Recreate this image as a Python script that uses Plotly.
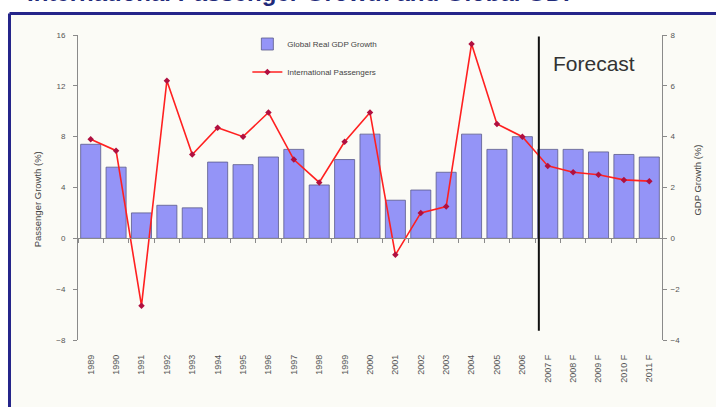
import plotly.graph_objects as go

# Years (forecast years flagged with "F")
years = ["1989", "1990", "1991", "1992", "1993", "1994", "1995", "1996", "1997",
         "1998", "1999", "2000", "2001", "2002", "2003", "2004", "2005", "2006",
         "2007 F", "2008 F", "2009 F", "2010 F", "2011 F"]

# Global real GDP growth (%) - right axis
gdp_growth = [3.7, 2.8, 1.0, 1.3, 1.2, 3.0, 2.9, 3.2, 3.5, 2.1, 3.1, 4.1,
              1.5, 1.9, 2.6, 4.1, 3.5, 4.0, 3.5, 3.5, 3.4, 3.3, 3.2]

# International passenger growth (%) - left axis
passenger_growth = [7.8, 6.9, -5.3, 12.4, 6.6, 8.7, 8.0, 9.9, 6.2, 4.4, 7.6, 9.9,
                    -1.3, 2.0, 2.5, 15.3, 9.0, 8.0, 5.7, 5.2, 5.0, 4.6, 4.5]

left_ticks = [-8, -4, 0, 4, 8, 12, 16]
right_ticks = [-4, -2, 0, 2, 4, 6, 8]

BG = "#fbfbf6"
NAVY = "#25258a"
AXIS = "#8a8a8a"
TICKFONT = dict(family="Arial", size=8, color="#555555")
XTICKFONT = dict(family="Arial", size=9, color="#555555")
TITLEFONT = dict(family="Arial", size=9.5, color="#444444")

fig = go.Figure()

# GDP bars on the base (right-hand) axis so the passenger line sits on top
fig.add_trace(go.Bar(
    x=years, y=gdp_growth, name="Global Real GDP Growth",
    yaxis="y", marker=dict(color="#9494f7", line=dict(color="#5a5a8a", width=0.8)),
    legendgroup="gdp",
))

fig.add_trace(go.Scatter(
    x=years, y=passenger_growth, name="International Passengers",
    yaxis="y2", mode="lines+markers", line=dict(color="#ff2020", width=1.6),
    marker=dict(symbol="diamond", size=5, color="#b01040"),
    legendgroup="pax",
))

n = len(years)

fig.update_layout(
    width=716, height=407,
    margin=dict(l=78, r=54, t=35, b=67),
    paper_bgcolor=BG, plot_bgcolor=BG,
    bargap=0.21,
    showlegend=True,
    legend=dict(
        x=0.29, y=1.018, xanchor="left", yanchor="top",
        bgcolor="rgba(0,0,0,0)", font=dict(family="Arial", size=8, color="#444444"),
        traceorder="grouped", tracegroupgap=9, itemwidth=30,
    ),
    xaxis=dict(
        type="category", range=[-0.5, n - 0.5],
        showline=False, showgrid=False, zeroline=False, ticks="",
        tickangle=-90, tickfont=XTICKFONT, ticklabelstandoff=12,
    ),
    xaxis2=dict(
        overlaying="x", anchor="free", position=1 / 3,
        range=[-0.5, n - 0.5], showgrid=False, zeroline=False,
        showline=True, linecolor=AXIS, linewidth=1,
        tickvals=[i + 0.5 for i in range(-1, n)], showticklabels=False,
        ticks="outside", ticklen=4, tickcolor=AXIS,
    ),
    yaxis=dict(
        range=[-4, 8], tickvals=right_ticks, side="right",
        showgrid=False, zeroline=False,
        showline=True, linecolor=AXIS, linewidth=1,
        ticks="outside", ticklen=4, tickcolor=AXIS, tickfont=TICKFONT,
        ticklabelstandoff=2,
    ),
    yaxis2=dict(
        range=[-8, 16], tickvals=left_ticks, overlaying="y", side="left",
        showgrid=False, zeroline=False,
        showline=True, linecolor=AXIS, linewidth=1,
        ticks="outside", ticklen=4, tickcolor=AXIS, tickfont=TICKFONT,
        ticklabelstandoff=6,
    ),
)

# Invisible trace so the zero-line category axis is rendered
fig.add_trace(go.Scatter(x=[-0.5], y=[0], xaxis="x2", mode="markers",
                         marker=dict(opacity=0), showlegend=False, hoverinfo="skip"))

# Axis titles
fig.add_annotation(xref="paper", yref="paper", x=-0.082, y=0.46, textangle=-90,
                   text="Passenger Growth (%)", showarrow=False, font=TITLEFONT)
fig.add_annotation(xref="paper", yref="paper", x=1.074, y=0.525, textangle=-90,
                   text="GDP Growth (%)", showarrow=False, font=TITLEFONT)

# Divider between actuals and forecasts
fig.add_shape(type="line", xref="x", yref="paper", x0=17.65, x1=17.65, y0=0.03, y1=0.995,
              line=dict(color="#111111", width=2))
fig.add_annotation(xref="paper", yref="paper", x=0.81, y=0.905, xanchor="left", yanchor="middle",
                   text="Forecast", showarrow=False,
                   font=dict(family="Arial", size=21, color="#333333"))

# Page header strip with navy frame
fig.add_shape(type="rect", xref="paper", yref="paper", x0=-0.2, x1=1.2, y0=1.07, y1=1.2,
              fillcolor="#ffffff", line=dict(width=0), layer="below")
fig.add_shape(type="rect", xref="paper", yref="paper", x0=-0.2, x1=-0.119, y0=-0.3, y1=1.2,
              fillcolor="#ffffff", line=dict(width=0), layer="below")
fig.add_shape(type="line", xref="paper", yref="paper", x0=-0.1173, x1=1.2, y0=1.0705, y1=1.0705,
              line=dict(color=NAVY, width=3))
fig.add_shape(type="line", xref="paper", yref="paper", x0=-0.1173, x1=-0.1173, y0=-0.3, y1=1.0705,
              line=dict(color=NAVY, width=3))
fig.add_annotation(xref="paper", yref="paper", x=-0.09, y=1.09, xanchor="left", yanchor="bottom",
                   text="<b>International Passenger Growth and Global GDP</b>", showarrow=False,
                   font=dict(family="Arial", size=24, color="#1f2a7a"))

fig.write_html("out.html")
